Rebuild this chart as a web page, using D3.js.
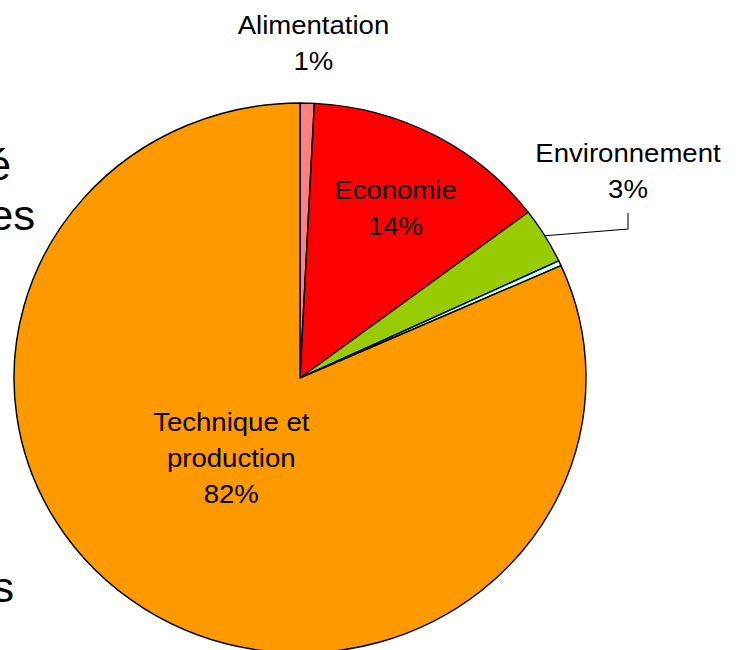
<!DOCTYPE html>
<html>
<head>
<meta charset="utf-8">
<script src="https://cdn.jsdelivr.net/npm/d3@7"></script>
<style>
  html, body { margin: 0; padding: 0; background: #fff; }
  svg { display: block; }
  text { font-family: "Liberation Sans", Arial, sans-serif; fill: #000; }
</style>
</head>
<body>
<svg id="chart" width="738" height="650"></svg>
<script>
// ---- data ----
const categories = ["Alimentation", "Economie", "Environnement", "Autre", "Technique et production"];
const values = [0.8, 13.9, 3.3, 0.3, 81.7];
const colors = ["#FF8080", "#FF0000", "#99CC00", "#CCFFFF", "#FF9900"];
const labelLines = [["Alimentation"], ["Economie"], ["Environnement"], [], ["Technique et", "production"]];
const sideText = ["é", "es", "s"];

// ---- layout ----
const W = 738, H = 650;
const sx = 1.04;               // slight horizontal stretch of the original picture
const cx = 300 / sx, cy = 378, R = 275;
const svg = d3.select("#chart");
const root = svg.append("g").attr("transform", `scale(${sx},1)`);

// fragments of slide text at the left edge (cut off in the original too)
const sideY = [180, 230, 602];
const sideX = [11, 35, 14];
root.selectAll("text.side").data(sideText).join("text")
  .attr("class", "side")
  .attr("x", (d, i) => sideX[i] / sx)
  .attr("y", (d, i) => sideY[i])
  .attr("text-anchor", "end")
  .style("font-size", "42px")
  .text(d => d);

const data = categories.map((c, i) => ({ cat: c, value: values[i], color: colors[i], lines: labelLines[i] }));
const total = d3.sum(values);
const pie = d3.pie().sort(null).value(d => d.value);
const arcs = pie(data);
const arc = d3.arc().innerRadius(0).outerRadius(R);

const g = root.append("g").attr("transform", `translate(${cx},${cy})`);
g.selectAll("path").data(arcs).join("path")
  .attr("d", arc)
  .attr("fill", d => d.data.color)
  .attr("stroke", "#000")
  .attr("stroke-width", 1.4)
  .attr("stroke-linejoin", "round");

const pct = v => Math.round(v / total * 100) + "%";
const mid = d => (d.startAngle + d.endAngle) / 2;
const polar = (a, r) => [r * Math.sin(a), -r * Math.cos(a)];

const lineH = 36;
function drawLabel(lines, x, yCenter) {
  const n = lines.length;
  const t = g.append("text").attr("text-anchor", "middle").style("font-size", "26.5px");
  lines.forEach((ln, i) => {
    t.append("tspan").attr("x", x)
      .attr("y", yCenter + (i - (n - 1) / 2) * lineH + 9)
      .text(ln);
  });
}

arcs.forEach((d, i) => {
  if (!d.data.lines.length) return;
  const lines = d.data.lines.concat([pct(d.data.value)]);
  const a = mid(d);
  if (d.data.cat === "Economie") {
    const [x, y] = polar(a, 192);
    drawLabel(lines, x + 2, y);
  } else if (d.data.cat === "Technique et production") {
    const [x, y] = polar(a, 105);
    drawLabel(lines, x - 9, y - 8);
  } else if (d.data.cat === "Alimentation") {
    const [x] = polar(a, R);
    drawLabel(lines, x + 6, -R - 60);
  } else if (d.data.cat === "Environnement") {
    const [ex, ey] = polar(a, R);
    const lx = (628 - 300) / sx;
    const ly = 229 - cy;
    g.append("path")
      .attr("d", d3.line()([[ex, ey], [lx, ly], [lx, ly - 16]]))
      .attr("fill", "none").attr("stroke", "#000").attr("stroke-width", 1);
    drawLabel(lines, lx, ly - 58);
  }
});
</script>
</body>
</html>
